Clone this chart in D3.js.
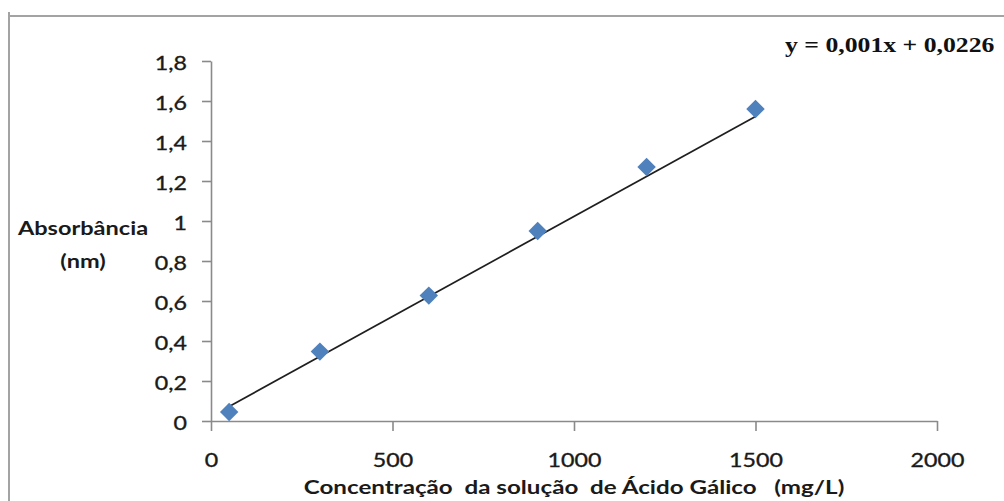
<!DOCTYPE html>
<html>
<head>
<meta charset="utf-8">
<script src="https://cdn.jsdelivr.net/npm/d3@7"></script>
<style>
  html, body { margin: 0; padding: 0; background: #fff; }
  svg { display: block; }
  text { white-space: pre; }
</style>
</head>
<body>
<svg id="chart" width="1004" height="501"></svg>
<script>
// Gallic acid calibration data
const concentrations = [50, 300, 600, 900, 1200, 1500];          // mg/L
const absorbances    = [0.045, 0.347, 0.627, 0.95, 1.27, 1.56];
const xTicks = [0, 500, 1000, 1500, 2000];
const yTicks = [0, 0.2, 0.4, 0.6, 0.8, 1, 1.2, 1.4, 1.6, 1.8];
const trendSlope = 0.001;
const trendIntercept = 0.0226;
const equationLabel = "y = 0,001x + 0,0226";
const xTitle = "Concentração  da solução  de Ácido Gálico   (mg/L)";
const yTitleLines = ["Absorbância", "(nm)"];

const svg = d3.select("#chart");
const W = 1004, H = 501;
const SX = 1.16;           // horizontal stretch of the tick labels
const SX_TITLE = 1.24;     // horizontal stretch of the axis titles
const axisColor = "#8a8a8a";
const textColor = "#1a1a1a";
const sansFont = "Lato, 'Open Sans', sans-serif";

const x = d3.scaleLinear().domain([0, 2000]).range([211, 937]);
const y = d3.scaleLinear().domain([0, 1.8]).range([421, 61]);
const fmt = d => d3.format("~g")(d).replace(".", ",");

// outer chart-area frame (top and left edges)
svg.append("line").attr("x1", 9).attr("x2", W).attr("y1", 16).attr("y2", 16)
  .attr("stroke", "#a3a3a3").attr("stroke-width", 2);
svg.append("line").attr("x1", 9).attr("x2", 9).attr("y1", 12).attr("y2", H)
  .attr("stroke", "#a3a3a3").attr("stroke-width", 2);

// y axis
const gy = svg.append("g").attr("transform", `translate(${x(0)},0)`)
  .call(d3.axisLeft(y).tickValues(yTicks).tickFormat(fmt).tickSize(9).tickSizeOuter(0));
// x axis
const gx = svg.append("g").attr("transform", `translate(0,${y(0)})`)
  .call(d3.axisBottom(x).tickValues(xTicks).tickFormat(d => d).tickSize(10).tickSizeOuter(0));

[gx, gy].forEach(g => {
  g.select(".domain").attr("stroke", axisColor).attr("stroke-width", 1.6);
  g.selectAll(".tick line").attr("stroke", axisColor).attr("stroke-width", 1.6);
  g.selectAll(".tick text").attr("fill", textColor)
    .attr("stroke", textColor).attr("stroke-width", 0.35)
    .style("font-family", sansFont).style("font-size", "20px");
});
gy.selectAll(".tick text")
  .attr("x", null).attr("dy", "0.36em")
  .attr("transform", `translate(-24,1) scale(${SX},1)`);
gx.selectAll(".tick text")
  .attr("y", null).attr("dy", null)
  .attr("transform", `translate(0,46) scale(${SX},1)`);

// axis titles
svg.append("text")
  .attr("transform", `translate(${(x(0) + x(2000)) / 2},494) scale(${SX_TITLE},1)`)
  .attr("text-anchor", "middle")
  .style("font-family", sansFont).style("font-size", "19.5px").style("font-weight", "bold")
  .attr("fill", textColor)
  .text(xTitle);

yTitleLines.forEach((line, i) => {
  svg.append("text")
    .attr("transform", `translate(83,${235 + i * 33}) scale(${SX_TITLE},1)`)
    .attr("text-anchor", "middle")
    .style("font-family", sansFont).style("font-size", "19px").style("font-weight", "bold")
    .attr("fill", textColor)
    .text(line);
});

// linear trendline between the first and last standards
const xMin = d3.min(concentrations), xMax = d3.max(concentrations);
svg.append("line")
  .attr("x1", x(xMin)).attr("y1", y(trendSlope * xMin + trendIntercept))
  .attr("x2", x(xMax)).attr("y2", y(trendSlope * xMax + trendIntercept))
  .attr("stroke", "#1f1f1f").attr("stroke-width", 1.7);

// diamond markers
const diamond = d3.symbol().type(d3.symbolSquare).size(170);
svg.append("g").selectAll("path")
  .data(concentrations.map((c, i) => [c, absorbances[i]]))
  .join("path")
  .attr("d", diamond)
  .attr("transform", d => `translate(${x(d[0])},${y(d[1])}) rotate(45)`)
  .attr("fill", "#4f81bd");

// regression equation
svg.append("text")
  .attr("transform", `translate(785,52) scale(1.17,1)`)
  .style("font-family", "'Liberation Serif', 'Times New Roman', serif")
  .style("font-size", "22px").style("font-weight", "bold")
  .attr("fill", "#111")
  .text(equationLabel);
</script>
</body>
</html>
